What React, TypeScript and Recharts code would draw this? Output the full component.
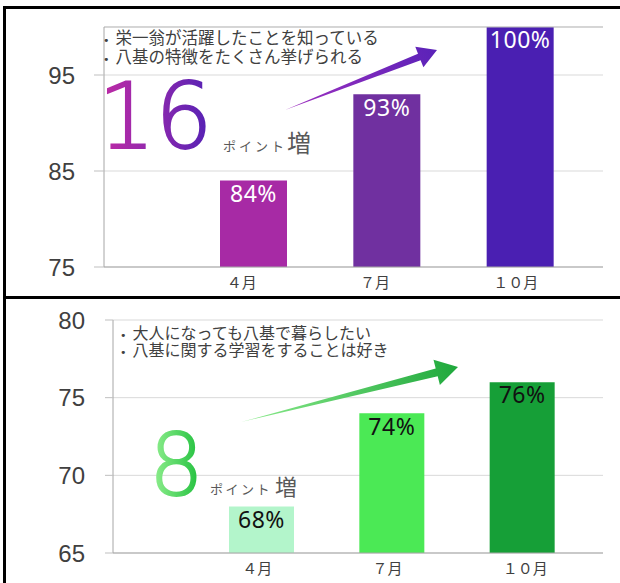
import React from 'react';
import { BarChart, Bar, XAxis, YAxis, CartesianGrid, Cell, LabelList, ReferenceLine } from 'recharts';

// categories and values
const months = ['４月', '７月', '１０月'];
const knowValues = [84, 93, 100];
const liveValues = [68, 74, 76];
const knowTicks = [75, 85, 95];
const liveTicks = [65, 70, 75, 80];
const knowNotes = ['栄一翁が活躍したことを知っている', '八基の特徴をたくさん挙げられる'];
const liveNotes = ['大人になっても八基で暮らしたい', '八基に関する学習をすることは好き'];
const knowColors = ['#A72AA5', '#7030A0', '#4A1FB2'];
const liveColors = ['#B3F5CB', '#4BE955', '#169F37'];

const knowData = months.map((m, i) => ({ month: m, value: knowValues[i] }));
const liveData = months.map((m, i) => ({ month: m, value: liveValues[i] }));

const JP = '"Noto Sans CJK JP", "Noto Sans", sans-serif';
const NUM = '"Liberation Sans", Arial, sans-serif';
const BIG = '"DejaVu Sans", sans-serif';

function MonthTick(props: any) {
  const { x, y, payload, shift } = props;
  return (
    <text x={x + shift} y={y} dy="0.71em" textAnchor="start" fontSize={15} fill="#404040" fontFamily={JP}>
      {payload.value}
    </text>
  );
}

function arrowPath(tail: number[], tip: number[], headLen: number, headHalf: number, shaftHalf: number) {
  const dx = tip[0] - tail[0];
  const dy = tip[1] - tail[1];
  const len = Math.hypot(dx, dy);
  const ux = dx / len, uy = dy / len;
  const nx = -uy, ny = ux;
  const bx = tip[0] - ux * headLen, by = tip[1] - uy * headLen;
  const p = (x: number, y: number) => `${x.toFixed(1)},${y.toFixed(1)}`;
  return `M${p(tail[0], tail[1])} L${p(bx + nx * shaftHalf, by + ny * shaftHalf)} L${p(bx + nx * headHalf, by + ny * headHalf)} L${p(tip[0], tip[1])} L${p(bx - nx * headHalf, by - ny * headHalf)} L${p(bx - nx * shaftHalf, by - ny * shaftHalf)} Z`;
}

function Notes({ lines, x, y, gap, size }: any) {
  return (
    <>
      {lines.map((t: string, i: number) => (
        <text key={t} x={x} y={y + i * gap} fill="#404040" fontFamily={JP}>
          <tspan fontSize={11} fontFamily={BIG}>•</tspan>
          <tspan dx={6} fontSize={size}>{t}</tspan>
        </text>
      ))}
    </>
  );
}

function Panel(props: any) {
  const { data, colors, domain, ticks, height, top, left, shift, tickSize, tickMargin, labelFill, barSize, topLine } = props;
  return (
    <BarChart width={620} height={height} data={data} margin={{ top, right: 17, bottom: 0, left: 0 }}>
      <CartesianGrid vertical={false} stroke="#D9D9D9" />
      <XAxis
        dataKey="month"
        height={30}
        padding={{ left: 83, right: 16 }}
        stroke="#A6A6A6"
        tickLine={false}
        tickMargin={4}
        tick={<MonthTick shift={shift} />}
      />
      <YAxis
        width={left}
        domain={domain}
        ticks={ticks}
        allowDataOverflow
        stroke="#A6A6A6"
        tickSize={tickSize}
        tickMargin={tickMargin}
        tickLine={{ stroke: '#BFBFBF' }}
        tick={{ fontSize: 24, fill: '#404040', fontFamily: NUM }}
      />
      {topLine ? <ReferenceLine y={topLine} stroke="#BFBFBF" /> : null}
      <Bar dataKey="value" barSize={barSize} isAnimationActive={false}>
        {data.map((d: any, i: number) => (
          <Cell key={d.month} fill={colors[i]} />
        ))}
        <LabelList
          dataKey="value"
          position="insideTop"
          offset={5}
          formatter={(v: any) => `${v}%`}
          style={{ fontSize: 23, letterSpacing: 0.5, fill: labelFill, fontFamily: '"Noto Sans", sans-serif' }}
        />
      </Bar>
    </BarChart>
  );
}

export default function App() {
  return (
    <div style={{ position: 'absolute', left: 0, top: 0, width: 620, height: 583, background: '#fff', overflow: 'hidden' }}>
      <div style={{ position: 'absolute', left: 0, top: 0 }}>
        <Panel
          data={knowData}
          colors={knowColors}
          domain={[75, 100]}
          ticks={knowTicks}
          height={297}
          top={27}
          left={104}
          shift={-27}
          tickSize={10}
          tickMargin={19}
          labelFill="#FFFFFF"
          barSize={67}
          topLine={100}
        />
      </div>
      <div style={{ position: 'absolute', left: 0, top: 297 }}>
        <Panel
          data={liveData}
          colors={liveColors}
          domain={[65, 80]}
          ticks={liveTicks}
          height={286}
          top={23}
          left={113}
          shift={-19}
          tickSize={8}
          tickMargin={20}
          labelFill="#111111"
          barSize={65}
        />
      </div>

      <svg width={620} height={583} style={{ position: 'absolute', left: 0, top: 0, pointerEvents: 'none' }}>
        <defs>
          <linearGradient id="purpleNum" gradientUnits="userSpaceOnUse" x1={108} y1={0} x2={220} y2={0}>
            <stop offset="0%" stopColor="#B82AA6" />
            <stop offset="45%" stopColor="#8A28AE" />
            <stop offset="100%" stopColor="#4A20B6" />
          </linearGradient>
          <linearGradient id="purpleArrow" gradientUnits="userSpaceOnUse" x1={285} y1={110} x2={437} y2={50}>
            <stop offset="0%" stopColor="#A030C0" />
            <stop offset="100%" stopColor="#5A22B8" />
          </linearGradient>
          <linearGradient id="greenNum" gradientUnits="userSpaceOnUse" x1={155} y1={0} x2={200} y2={0}>
            <stop offset="0%" stopColor="#8AEC8A" />
            <stop offset="100%" stopColor="#22C03E" />
          </linearGradient>
          <linearGradient id="greenArrow" gradientUnits="userSpaceOnUse" x1={241} y1={422} x2={458} y2={367}>
            <stop offset="0%" stopColor="#8CEC8C" />
            <stop offset="100%" stopColor="#1FA83C" />
          </linearGradient>
        </defs>

        <Notes lines={knowNotes} x={103} y={44} gap={19} size={16.5} />
        <Notes lines={liveNotes} x={120} y={339} gap={17} size={16} />

        <text x={98} y={148} fontSize={90} fontWeight={200} fontFamily={BIG} fill="url(#purpleNum)" stroke="url(#purpleNum)" strokeWidth={1.8}>16</text>
        <text x={223} y={151} fontSize={13} letterSpacing={3} fill="#595959" fontFamily={JP}>ポイント</text>
        <text x={287} y={152} fontSize={24} fill="#595959" fontFamily={JP}>増</text>
        <path d={arrowPath([285, 110], [437, 50], 19, 11, 3.5)} fill="url(#purpleArrow)" />

        <text x={149} y={495} fontSize={86} fontWeight={200} fontFamily={BIG} fill="url(#greenNum)" stroke="url(#greenNum)" strokeWidth={1.8}>8</text>
        <text x={210} y={494} fontSize={13} letterSpacing={2.5} fill="#595959" fontFamily={JP}>ポイント</text>
        <text x={275} y={495} fontSize={22} fill="#595959" fontFamily={JP}>増</text>
        <path d={arrowPath([241, 422], [458, 367], 22, 13, 4)} fill="url(#greenArrow)" />
      </svg>

      <div style={{ position: 'absolute', left: 3, top: 6, width: 617, height: 3, background: '#000' }} />
      <div style={{ position: 'absolute', left: 3, top: 296, width: 617, height: 3, background: '#000' }} />
      <div style={{ position: 'absolute', left: 3, top: 6, width: 3, height: 577, background: '#000' }} />
    </div>
  );
}
